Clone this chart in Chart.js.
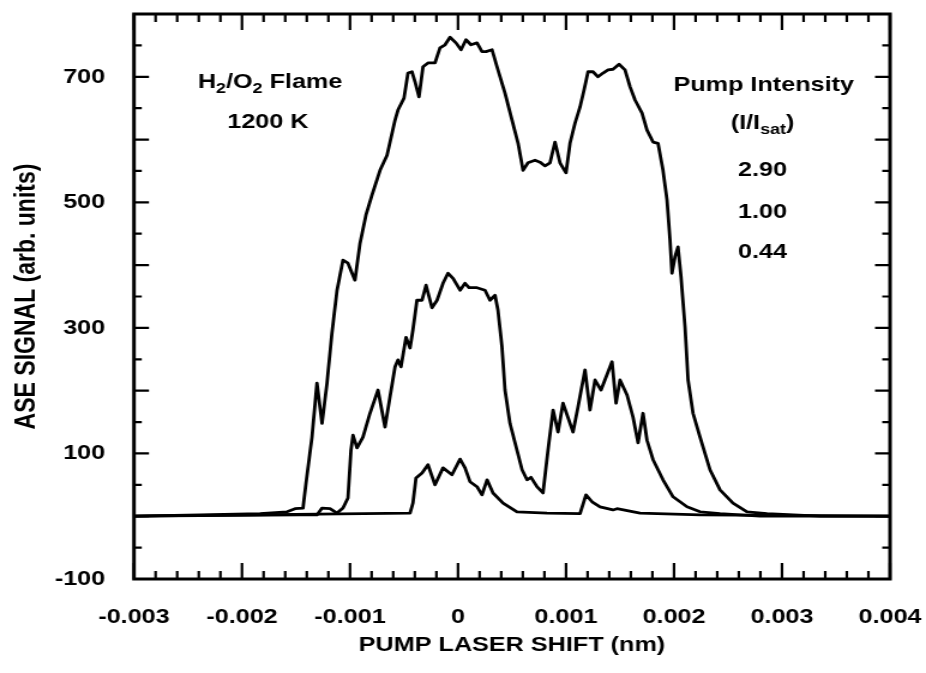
<!DOCTYPE html>
<html>
<head>
<meta charset="utf-8">
<script src="https://cdn.jsdelivr.net/npm/chart.js@4.4.1/dist/chart.umd.min.js"></script>
<style>
  html, body { margin: 0; padding: 0; background: #fff; }
  #ase { display: block; }
</style>
</head>
<body>
<!-- drawing surface is 772 wide and shown 926 wide: the figure is set in a wide face -->
<canvas id="ase" width="772" height="673" style="width:926px;height:673px"></canvas>
<script>
// ASE signal vs pump laser shift, H2/O2 flame at 1200 K, three pump intensities (I/Isat)
const seriesLabels = ['2.90', '1.00', '0.44'];

const shiftHigh = [-0.003, -0.002389, -0.001833, -0.001583, -0.001509, -0.001435, -0.001407, -0.001352,
  -0.001306, -0.001259, -0.001213, -0.001167, -0.00112, -0.001065, -0.001019, -0.000954, -0.000907,
  -0.000852, -0.000796, -0.000722, -0.000657, -0.000583, -0.000556, -0.0005, -0.000463, -0.000426,
  -0.000398, -0.000361, -0.000324, -0.000278, -0.000213, -0.000167, -0.00012, -0.000074, -0.000019,
  0.000028, 0.000074, 0.00012, 0.000176, 0.000222, 0.000259, 0.000315, 0.000361, 0.000435, 0.0005,
  0.000556, 0.000602, 0.000648, 0.000713, 0.000759, 0.000806, 0.000852, 0.000898, 0.000944, 0.001,
  0.001037, 0.001083, 0.00113, 0.001167, 0.001204, 0.00125, 0.001296, 0.001343, 0.001389, 0.001435,
  0.001491, 0.001546, 0.001593, 0.001639, 0.001704, 0.00175, 0.001806, 0.001852, 0.001898, 0.001935,
  0.001963, 0.001981, 0.002009, 0.002037, 0.002065, 0.002102, 0.00213, 0.002176, 0.002241, 0.002333,
  0.002426, 0.002546, 0.002676, 0.002861, 0.003352, 0.004];
const signalHigh = [0, 2, 4, 7, 12, 13, 53, 126,
  212, 148, 212, 292, 360, 408, 403, 376, 435,
  480, 512, 551, 575, 631, 647, 666, 706, 708,
  692, 668, 716, 722, 722, 746, 751, 763, 754,
  743, 759, 751, 754, 740, 740, 743, 716, 674, 631,
  594, 551, 563, 567, 564, 558, 563, 596, 563, 547,
  594, 626, 652, 679, 708, 708, 700, 706, 711, 712,
  720, 711, 684, 663, 642, 615, 596, 594, 551, 504,
  440, 387, 413, 429, 381, 301, 217, 164, 126, 74,
  42, 21, 7, 4, 0, 0];

const shiftMid = [-0.003, -0.001463, -0.001306, -0.001259, -0.001185, -0.00112, -0.001065, -0.001019,
  -0.000991, -0.000972, -0.000935, -0.00088, -0.000815, -0.000741, -0.000676, -0.00063, -0.000583,
  -0.000556, -0.000528, -0.000481, -0.000444, -0.000417, -0.00038, -0.000333, -0.000296, -0.000241,
  -0.000194, -0.000139, -0.000093, -0.000046, 0.000019, 0.000065, 0.000102, 0.000176, 0.00025,
  0.000296, 0.000343, 0.00037, 0.000407, 0.000435, 0.000481, 0.000546, 0.000593, 0.000639, 0.000676,
  0.000731, 0.000787, 0.000833, 0.00088, 0.000926, 0.000972, 0.001065, 0.001111, 0.001176, 0.001222,
  0.001269, 0.001324, 0.001426, 0.001463, 0.0015, 0.001565, 0.00162, 0.001667, 0.001713, 0.00175,
  0.001806, 0.001898, 0.001991, 0.00212, 0.002241, 0.002426, 0.002796, 0.004];
const signalMid = [0, 2, 2, 13, 12, 5, 13, 29,
  105, 129, 109, 126, 164, 201, 142, 190, 238,
  249, 238, 285, 268, 297, 344, 344, 368, 332,
  344, 371, 387, 379, 360, 371, 364, 364, 360,
  344, 352, 328, 270, 201, 148, 105, 74, 58, 62,
  47, 37, 105, 169, 134, 180, 134, 174, 233, 169,
  217, 201, 246, 180, 217, 193, 158, 117, 164, 121,
  90, 58, 31, 15, 7, 4, 0, 0];

const shiftLow = [-0.003, -0.000444, -0.000417, -0.000389, -0.000333, -0.000278, -0.000213, -0.000139,
  -0.000056, 0.000019, 0.000065, 0.000111, 0.000176, 0.000222, 0.000269, 0.000324, 0.000417,
  0.000546, 0.000824, 0.00113, 0.001185, 0.001241, 0.001315, 0.001435, 0.001472, 0.001685,
  0.002241, 0.004];
const signalLow = [0, 5, 21, 61, 69, 82, 50, 77,
  66, 91, 77, 55, 47, 34, 58, 37, 21,
  7, 5, 4, 34, 23, 15, 10, 12, 5,
  2, 0];

const xTicks = [-0.003, -0.002, -0.001, 0, 0.001, 0.002, 0.003, 0.004];
const xTickLabels = ['-0.003', '-0.002', '-0.001', '0', '0.001', '0.002', '0.003', '0.004'];
const yTicks = [-100, 100, 300, 500, 700];
const yTickLabels = ['-100', '100', '300', '500', '700'];

const FONT = '"Liberation Sans", Arial, Helvetica, sans-serif';

function pairUp(xs, ys) {
  return xs.map((x, i) => ({ x: x, y: ys[i] }));
}

// text made of normal and subscript pieces, centred on (cx, cy)
function drawRich(ctx, parts, cx, cy) {
  const big = 'bold 21px ' + FONT;
  const small = 'bold 15px ' + FONT;
  let total = 0;
  parts.forEach(p => {
    ctx.font = p.sub ? small : big;
    total += ctx.measureText(p.t).width;
  });
  let px = cx - total / 2;
  ctx.textAlign = 'left';
  ctx.textBaseline = 'middle';
  parts.forEach(p => {
    ctx.font = p.sub ? small : big;
    ctx.fillText(p.t, px, p.sub ? cy + 7 : cy);
    px += ctx.measureText(p.t).width;
  });
}

// closed frame with inward ticks on all four sides, plus the notes
const framePlugin = {
  id: 'framePlugin',
  afterDatasetsDraw(chart) {
    const { ctx, chartArea: a, scales: { x, y } } = chart;
    ctx.save();
    ctx.strokeStyle = '#000';
    ctx.fillStyle = '#000';
    ctx.lineWidth = 3;
    ctx.strokeRect(a.left, a.top, a.right - a.left, a.bottom - a.top);

    ctx.lineWidth = 2.2;
    ctx.beginPath();
    for (let i = 0; i <= 35; i++) {
      const px = x.getPixelForValue(-0.003 + i * 0.0002);
      const len = i % 5 === 0 ? 16 : 8;
      ctx.moveTo(px, a.bottom);
      ctx.lineTo(px, a.bottom - len);
      ctx.moveTo(px, a.top);
      ctx.lineTo(px, a.top + len);
    }
    for (let v = -100; v <= 800; v += 50) {
      const py = y.getPixelForValue(v);
      const len = v % 100 === 0 ? 12.5 : 6.5;
      ctx.moveTo(a.left, py);
      ctx.lineTo(a.left + len, py);
      ctx.moveTo(a.right, py);
      ctx.lineTo(a.right - len, py);
    }
    ctx.stroke();

    const at = (xv, yv) => [x.getPixelForValue(xv), y.getPixelForValue(yv)];

    let p = at(-0.00174, 692);
    drawRich(ctx, [{ t: 'H' }, { t: '2', sub: true }, { t: '/O' }, { t: '2', sub: true }, { t: ' Flame' }], p[0], p[1]);
    p = at(-0.00176, 628);
    drawRich(ctx, [{ t: '1200 K' }], p[0], p[1]);

    p = at(0.00283, 687);
    drawRich(ctx, [{ t: 'Pump Intensity' }], p[0], p[1]);
    p = at(0.00282, 626);
    drawRich(ctx, [{ t: '(I/I' }, { t: 'sat', sub: true }, { t: ')' }], p[0], p[1]);

    // one line per series, top to bottom
    const rows = [551, 485, 421];
    chart.data.datasets.forEach((ds, i) => {
      const q = at(0.00282, rows[i]);
      drawRich(ctx, [{ t: ds.label }], q[0], q[1]);
    });
    ctx.restore();
  }
};

const tickFont = { family: FONT, size: 21, weight: 'bold' };

new Chart(document.getElementById('ase'), {
  type: 'line',
  data: {
    datasets: [
      { label: seriesLabels[0], data: pairUp(shiftHigh, signalHigh) },
      { label: seriesLabels[1], data: pairUp(shiftMid, signalMid) },
      { label: seriesLabels[2], data: pairUp(shiftLow, signalLow) }
    ]
  },
  options: {
    responsive: false,
    animation: false,
    layout: { padding: { top: 14, right: 30, left: 0, bottom: 0 } },
    plugins: {
      legend: { display: false },
      tooltip: { enabled: false }
    },
    elements: {
      point: { radius: 0 },
      line: { borderColor: '#000', borderWidth: 2.8, tension: 0, borderJoinStyle: 'round', fill: false }
    },
    scales: {
      x: {
        type: 'linear',
        min: -0.003,
        max: 0.004,
        afterBuildTicks: s => { s.ticks = xTicks.map(v => ({ value: v })); },
        afterFit: s => { s.height = 94; s.paddingLeft = 0; s.paddingRight = 0; },
        grid: { display: false },
        border: { display: false },
        ticks: {
          autoSkip: false,
          maxRotation: 0,
          padding: 18,
          color: '#000',
          font: tickFont,
          callback: (v, i) => xTickLabels[i]
        },
        title: {
          display: true,
          text: 'PUMP LASER SHIFT (nm)',
          color: '#000',
          font: tickFont,
          padding: { top: 0, bottom: 15 }
        }
      },
      y: {
        type: 'linear',
        min: -100,
        max: 800,
        afterBuildTicks: s => { s.ticks = yTicks.map(v => ({ value: v })); },
        afterFit: s => { s.width = 111.7; s.paddingTop = 0; s.paddingBottom = 0; },
        grid: { display: false },
        border: { display: false },
        ticks: {
          autoSkip: false,
          padding: 16,
          color: '#000',
          font: tickFont,
          callback: (v, i) => yTickLabels[i]
        },
        title: {
          display: true,
          text: 'ASE SIGNAL (arb. units)',
          color: '#000',
          font: { family: FONT, size: 23, weight: 'bold' },
          padding: { top: 9, bottom: 0 }
        }
      }
    }
  },
  plugins: [framePlugin]
});
</script>
</body>
</html>
